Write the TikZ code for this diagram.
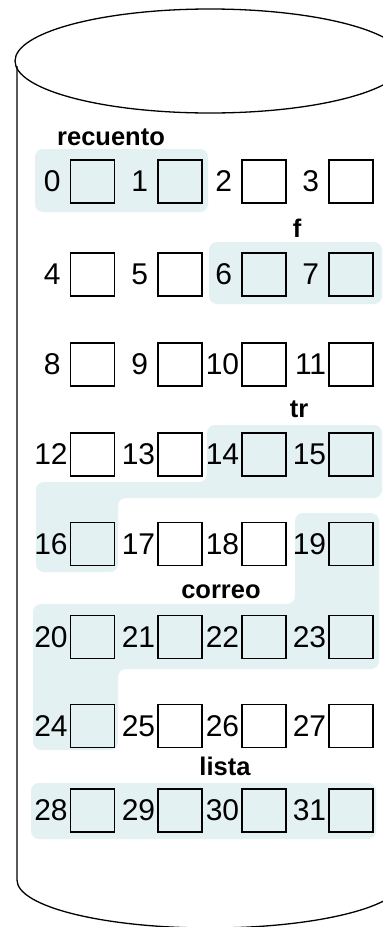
\documentclass[tikz,border=0pt]{standalone}
\usepackage{fontspec}
\setmainfont{Liberation Sans}
\definecolor{shade}{RGB}{228,241,243}
\begin{document}
\begin{tikzpicture}[x=1pt,y=-1pt,
  cell/.style={draw, line width=1.3pt, minimum width=44pt, minimum height=43pt, inner sep=0pt},
  num/.style={anchor=east, inner sep=0pt, font=\fontsize{30}{30}\selectfont},
  lbl/.style={anchor=base, inner sep=0pt, font=\fontsize{25.5}{26}\selectfont\bfseries},
  zone/.style={fill=shade, rounded corners=8pt},
  wall/.style={line width=1.3pt}]
\clip (0,0) rectangle (383,927);
\fill[white] (0,0) rectangle (383,927);
% cylinder
\draw[wall] (210,61) ellipse [x radius=195pt, y radius=52pt];
\draw[wall] (17,66) -- (17,880) arc[start angle=180, end angle=360, x radius=193pt, y radius=48pt];
% shaded groups
\fill[zone] (35,149) rectangle (208,212);
\fill[zone] (209,242) rectangle (382,304);
\fill[zone] (207,425) -- (382,425) -- (382,498) -- (118,498) -- (118,572) -- (36,572) -- (36,482) -- (207,482) -- cycle;
\fill[zone] (295,513) -- (379,513) -- (379,669) -- (118,669) -- (118,750) -- (33,750) -- (33,604) -- (295,604) -- cycle;
\fill[zone] (31,783) rectangle (376,839);
% blocks
\foreach \r/\y in {0/181.5,1/274.5,2/364.5,3/454.5,4/544,5/637,6/726,7/810.5}{
  \foreach \c/\x in {0/92.5,1/180,2/264,3/351}{
    \pgfmathtruncatemacro\k{4*\r+\c}
    \node[cell] (b\k) at (\x,\y) {};
    \ifnum\k<10 \def\gap{9}\else\def\gap{2}\fi
    \node[num] (n\k) at ([xshift=-\gap pt]b\k.west) {\k};
  }
}
% labels
\node[lbl] (recuento) at (111,145) {recuento};
\node[lbl] (lf) at (297,237) {f};
\node[lbl] (ltr) at (299,417) {tr};
\node[lbl] (correo) at (221,598) {correo};
\node[lbl] (lista) at (225,775) {lista};
\end{tikzpicture}
\end{document}
